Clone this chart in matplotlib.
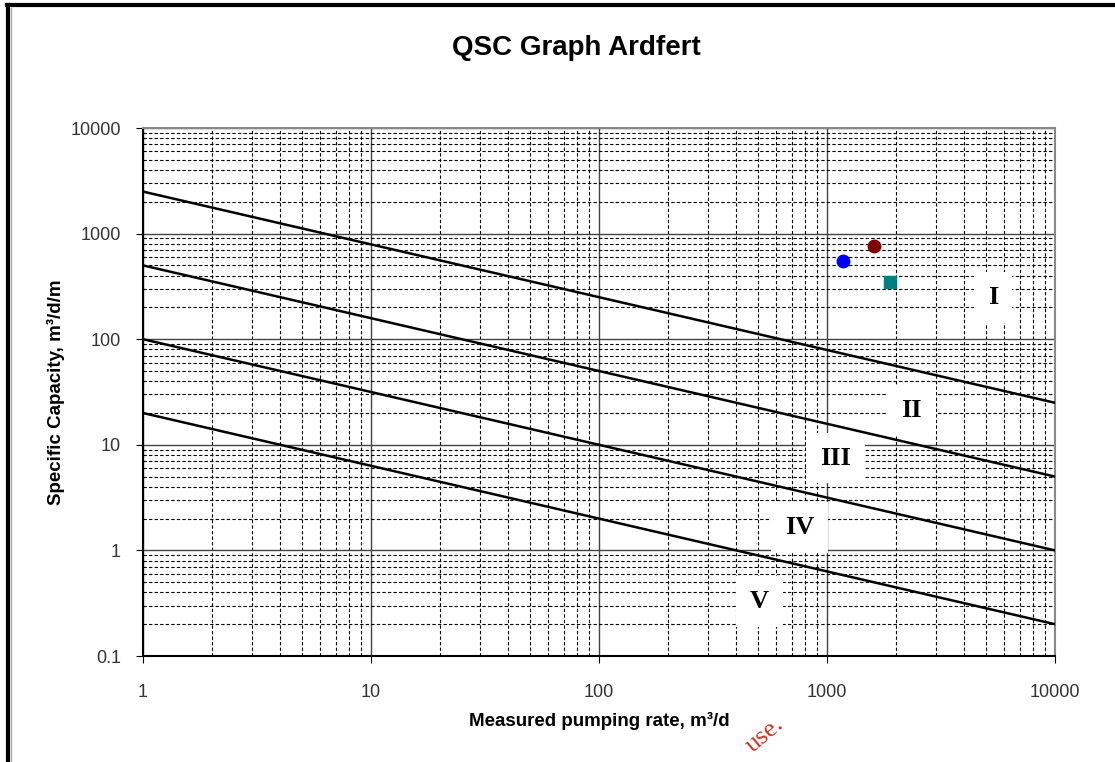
import numpy as np
import matplotlib.pyplot as plt
from matplotlib.lines import Line2D

# QSC zone lines: specific capacity at Q=1 and Q=10000
line_q = [1, 10000]
line_starts = [2500, 500, 100, 20]
line_ends = [25, 5, 1, 0.2]

# zone labels
zone_names = ['I', 'II', 'III', 'IV', 'V']
zone_x = [5350, 2350, 1090, 760, 505]
zone_y = [250, 21, 7.5, 1.66, 0.33]

# measured points
pts_q = [1175, 1600, 1890]
pts_sc = [550, 760, 348]
pts_color = ['#0000ff', '#800000', '#008080']
pts_marker = ['o', 'o', 's']

fig = plt.figure(figsize=(11.15, 7.62), dpi=100)
ax = fig.add_axes([0.1283, 0.1391, 0.8179, 0.6929])

ax.set_xscale('log')
ax.set_yscale('log')
ax.set_xlim(1, 10000)
ax.set_ylim(0.1, 10000)

ax.grid(which='major', color='#444444', linestyle='-', linewidth=1.0)
ax.grid(which='minor', color='black', linestyle=(0, (3, 2)), linewidth=0.8)
ax.set_axisbelow(True)

for y0, y1 in zip(line_starts, line_ends):
    ax.plot(line_q, [y0, y1], color='black', lw=1.8, zorder=3)

for name, x, y in zip(zone_names, zone_x, zone_y):
    ax.text(x, y, name, fontsize=19, fontweight='bold', family='Liberation Serif',
            ha='center', va='center', zorder=2,
            bbox=dict(facecolor='white', edgecolor='none', pad=10))

for q, s, c, m in zip(pts_q, pts_sc, pts_color, pts_marker):
    ax.plot(q, s, marker=m, color=c, markersize=9, ls='none', zorder=4)

ax.set_xticks([1, 10, 100, 1000, 10000])
ax.set_xticklabels(['1', '10', '100', '1000', '10000'])
ax.set_yticks([0.1, 1, 10, 100, 1000, 10000])
ax.set_yticklabels(['0.1', '1', '10', '100', '1000', '10000'])
ax.tick_params(which='major', direction='out', length=5, labelsize=13,
               labelcolor='#333333')
ax.tick_params(axis='x', which='major', pad=15)
ax.tick_params(axis='y', which='major', pad=11)
ax.tick_params(which='minor', length=0)
for lab in ax.get_xticklabels() + ax.get_yticklabels():
    lab.set_family('Liberation Sans')

for side in ['top', 'right']:
    ax.spines[side].set_color('#888888')
    ax.spines[side].set_linewidth(1.5)
for side in ['left', 'bottom']:
    ax.spines[side].set_linewidth(1.5)

ax.set_xlabel('Measured pumping rate, m³/d', fontsize=13.5, fontweight='bold',
              family='Liberation Sans', labelpad=8)
ax.set_ylabel('Specific Capacity, m³/d/m', fontsize=13.5, fontweight='bold',
              family='Liberation Sans', labelpad=4)
fig.text(0.5165, 0.937, 'QSC Graph Ardfert', ha='center', va='center',
         fontsize=20, fontweight='bold', family='Liberation Sans')

# frame edges of the embedded chart
fig.add_artist(Line2D([0.0065, 1.0], [0.9934, 0.9934], color='black', lw=3))
fig.add_artist(Line2D([0.0075, 0.0075], [0.0, 0.9934], color='black', lw=3))
fig.add_artist(Line2D([0.0095, 0.0095], [0.0, 0.99], color='#aaaaaa', lw=1))

# watermark fragment
fig.text(0.686, 0.035, 'use.', color='#cc3322', fontsize=19, family='Liberation Serif',
         rotation=40, ha='center', va='center')

fig.savefig('out.png', dpi=100)
